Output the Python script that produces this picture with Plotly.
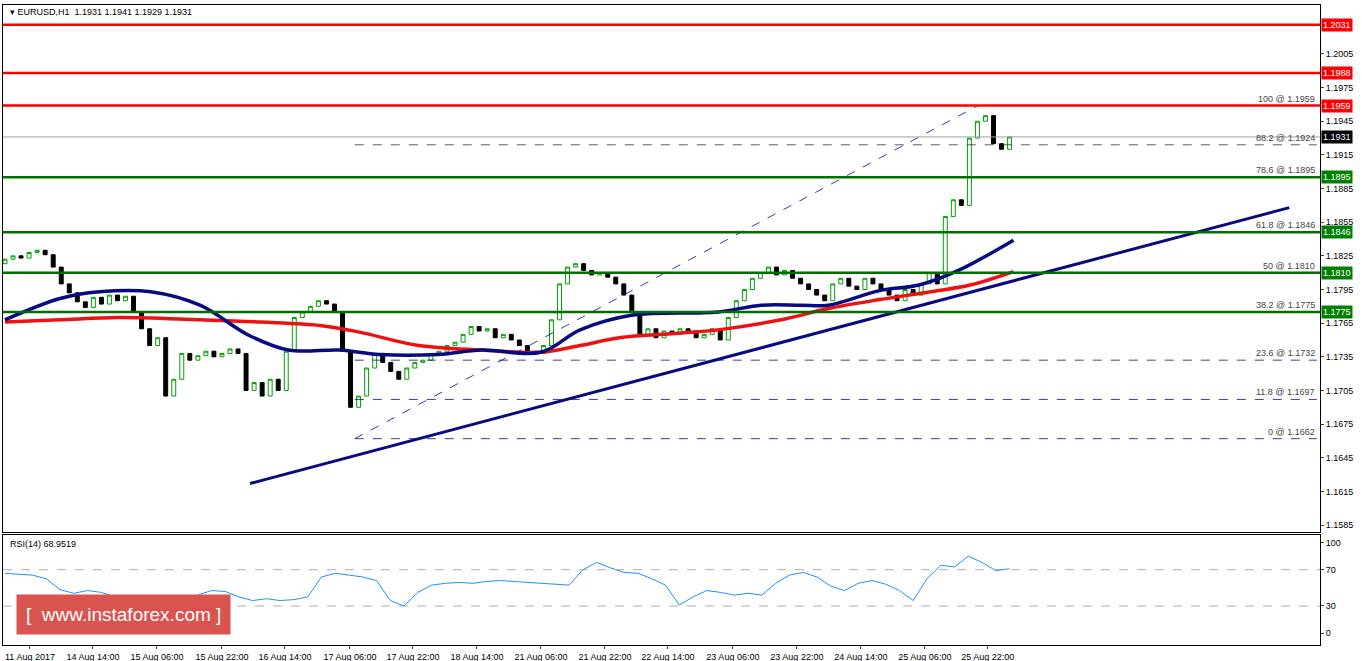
import plotly.graph_objects as go

closes = [1.1822,1.1825,1.1823,1.1828,1.1830,1.1826,1.1815,1.1800,1.1792,1.1784,
1.1779,1.1788,1.1782,1.1790,1.1785,1.1789,1.1775,1.1760,1.1745,1.1752,
1.1700,1.1715,1.1738,1.1732,1.1736,1.1740,1.1735,1.1738,1.1742,1.1738,
1.1705,1.1712,1.1700,1.1715,1.1705,1.1740,1.1770,1.1775,1.1780,1.1785,
1.1782,1.1775,1.1740,1.1690,1.1700,1.1725,1.1738,1.1730,1.1722,1.1715,
1.1725,1.1730,1.1732,1.1738,1.1740,1.1745,1.1748,1.1755,1.1762,1.1758,
1.1760,1.1752,1.1755,1.1750,1.1745,1.1740,1.1738,1.1745,1.1768,1.1800,
1.1815,1.1818,1.1812,1.1808,1.1810,1.1806,1.1800,1.1790,1.1775,1.1755,
1.1760,1.1752,1.1758,1.1755,1.1760,1.1758,1.1752,1.1755,1.1760,1.1750,
1.1770,1.1785,1.1795,1.1805,1.1810,1.1815,1.1808,1.1812,1.1805,1.1800,
1.1795,1.1790,1.1785,1.1800,1.1805,1.1798,1.1795,1.1805,1.1800,1.1795,
1.1790,1.1785,1.1795,1.1790,1.1800,1.1810,1.1800,1.1860,1.1875,1.1870,
1.1930,1.1945,1.1950,1.1925,1.1920,1.1931]
first_open = 1.1818

blue_h = [0,14,24,37,49.5,62,72,85,95,110,121,136,146,159,181,192,202,209,222,232,242,256]
blue_p = [1.1768,1.1787,1.1793,1.1793,1.1781,1.1754,1.1741,1.1741,1.1737,1.1737,1.1741,1.1739,1.1759,1.1772,1.1775,1.1781,1.1781,1.1781,1.1794,1.1799,1.1812,1.1839]
red_h = [0,14,29,49.5,65,80,90,105,121,136,146,156,171,181,197,209,222,235,245,256]
red_p = [1.1766,1.1768,1.1770,1.1768,1.1766,1.1763,1.1757,1.1745,1.1741,1.1739,1.1745,1.1752,1.1756,1.1759,1.1768,1.1778,1.1786,1.1793,1.1799,1.1811]

rsi = [66,65,64,60,48,44,47,45,40,36,33,31,24,30,42,47,46,40,36,38,36,37,40,62,66,64,62,58,36,30,
       45,53,55,56,55,57,58,57,56,55,54,53,70,78,72,67,66,60,53,31,40,47,45,42,44,42,55,64,67,62,
       52,47,55,58,54,47,36,60,75,73,85,78,69,71]

trend_h = [62.2, 326]; trend_p = [1.1622, 1.1868]
fibdiag_h = [88.8, 247]; fibdiag_p = [1.1662, 1.1959]
red_levels = [1.2031, 1.1988, 1.1959]
green_levels = [1.1895, 1.1846, 1.1810, 1.1775]
fib_levels = [(100,1.1959),(88.2,1.1924),(78.6,1.1895),(61.8,1.1846),(50,1.1810),(38.2,1.1775),(23.6,1.1732),(11.8,1.1697),(0,1.1662)]
date_labels = ["11 Aug 2017","14 Aug 14:00","15 Aug 06:00","15 Aug 22:00","16 Aug 14:00","17 Aug 06:00","17 Aug 22:00","18 Aug 14:00","21 Aug 06:00","21 Aug 22:00","22 Aug 14:00","23 Aug 06:00","23 Aug 22:00","24 Aug 14:00","25 Aug 06:00","25 Aug 22:00"]

n = len(closes)
xs = [k*255/(n-1) for k in range(n)]
opens = [first_open] + closes[:-1]
highs = [max(o,c) for o,c in zip(opens,closes)]
lows = [min(o,c) for o,c in zip(opens,closes)]

F = "Liberation Sans Narrow, Liberation Sans, Arial"
fig = go.Figure()
fig.add_trace(go.Candlestick(x=xs, open=opens, high=highs, low=lows, close=closes,
    increasing=dict(line=dict(color="#00a000", width=1), fillcolor="white"),
    decreasing=dict(line=dict(color="black", width=1), fillcolor="black"),
    whiskerwidth=0, xaxis="x", yaxis="y"))
fig.add_trace(go.Scatter(x=red_h, y=red_p, mode="lines", line=dict(color="#ee1111", width=3.5, shape="spline"), xaxis="x", yaxis="y"))
fig.add_trace(go.Scatter(x=blue_h, y=blue_p, mode="lines", line=dict(color="#0a0a80", width=3.5, shape="spline"), xaxis="x", yaxis="y"))
fig.add_trace(go.Scatter(x=trend_h, y=trend_p, mode="lines", line=dict(color="#0a0a80", width=3), xaxis="x", yaxis="y"))
fig.add_trace(go.Scatter(x=fibdiag_h, y=fibdiag_p, mode="lines", line=dict(color="#0a0a80", width=0.8, dash="dash"), xaxis="x", yaxis="y"))
rx = [k*255/(len(rsi)-1) for k in range(len(rsi))]
fig.add_trace(go.Scatter(x=rx, y=rsi, mode="lines", line=dict(color="#1e90ff", width=1), xaxis="x2", yaxis="y2"))

shapes = []
annos = []
def lab(p, bg):
    annos.append(dict(xref="paper", x=1.001, xanchor="left", yref="y", y=p, text=f"{p:.4f}", showarrow=False, bgcolor=bg, font=dict(color="white", size=9, family=F), borderpad=1))
for p in red_levels:
    shapes.append(dict(type="line", xref="x domain", x0=0, x1=1, yref="y", y0=p, y1=p, line=dict(color="#ff0000", width=2.5)))
    lab(p, "#ff0000")
for p in green_levels:
    shapes.append(dict(type="line", xref="x domain", x0=0, x1=1, yref="y", y0=p, y1=p, line=dict(color="#007000", width=2.5)))
    lab(p, "#008000")
shapes.append(dict(type="line", xref="x domain", x0=0, x1=1, yref="y", y0=closes[-1], y1=closes[-1], line=dict(color="#a0a0a0", width=1)))
lab(closes[-1], "black")
for lvl, p in fib_levels:
    if lvl in (88.2, 23.6, 11.8, 0):
        col = "#333333" if lvl == 88.2 else "#0a0a80"
        shapes.append(dict(type="line", xref="x", x0=88.8, x1=333, yref="y", y0=p, y1=p, line=dict(color=col, width=0.8, dash="dash")))
    annos.append(dict(xref="x", x=333, xanchor="right", yref="y", y=p, yanchor="bottom", text=f"{lvl} @ {p:.4f}", showarrow=False, font=dict(color="#444", size=9, family=F)))
for y in [70, 30]:
    shapes.append(dict(type="line", xref="x2 domain", x0=0, x1=1, yref="y2", y0=y, y1=y, line=dict(color="#999", width=0.8, dash="dash")))
annos.append(dict(xref="paper", x=0.004, y=0.997, yref="paper", xanchor="left", yanchor="top", text="▾ EURUSD,H1  1.1931 1.1941 1.1929 1.1931", showarrow=False, font=dict(size=9, color="black", family=F)))
annos.append(dict(xref="paper", x=0.004, y=0.168, yref="paper", xanchor="left", yanchor="top", text="RSI(14) 68.9519", showarrow=False, font=dict(size=9, color="black", family=F)))
annos.append(dict(xref="paper", x=0.010, y=0.048, yref="paper", xanchor="left", yanchor="middle", text="[  www.instaforex.com ]", showarrow=False, font=dict(size=19, color="white"), bgcolor="#d9534f", borderpad=9))

tickvals = [(p-5)/3.94 for p in [30,93,157,222,285,350,413,477,541,605,668,733,797,861,925,988]]
ax = dict(showgrid=False, zeroline=False, showline=True, mirror=True, linecolor="black", automargin=False)
fig.update_layout(
    width=1362, height=661, margin=dict(l=3, r=42, t=3, b=16), showlegend=False,
    plot_bgcolor="white", paper_bgcolor="white", font=dict(family=F, size=9, color="black"),
    xaxis=dict(domain=[0,1], range=[-0.5,333.8], showticklabels=False, rangeslider=dict(visible=False), anchor="y", **ax),
    yaxis=dict(domain=[0.176,0.997], range=[1.15788,1.20487], side="right", tickvals=[1.1585+0.003*i for i in range(15)], tickformat=".4f", ticks="outside", ticklen=3, **ax),
    xaxis2=dict(domain=[0,1], range=[-0.5,333.8], tickvals=tickvals, ticktext=date_labels, anchor="y2", ticks="outside", ticklen=3, tickangle=0, **ax),
    yaxis2=dict(domain=[0,0.171], range=[-13,108], side="right", tickvals=[0,30,70,100], ticks="outside", ticklen=3, **ax),
    shapes=shapes, annotations=annos)
fig.write_html("out.html", config={"displayModeBar": False})
with open("out.html") as f:
    html = f.read()
html = html.replace("<head>", "<head><style>html,body{margin:0;padding:0;overflow:hidden}</style>", 1)
with open("out.html", "w") as f:
    f.write(html)
